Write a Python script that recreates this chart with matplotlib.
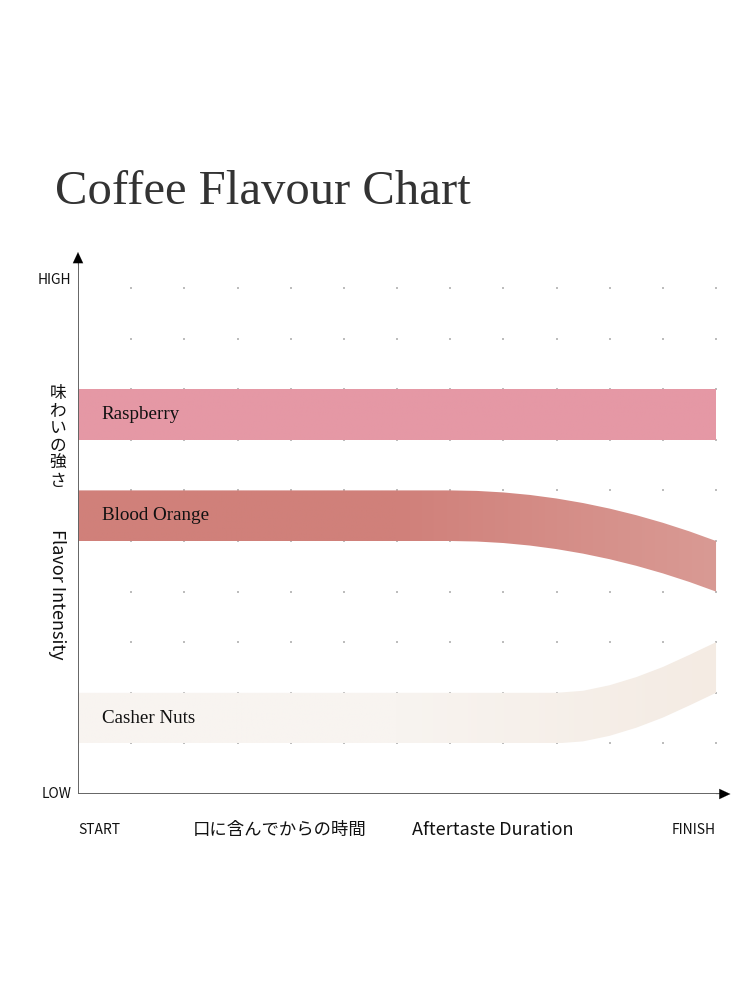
import matplotlib.pyplot as plt
import numpy as np
from matplotlib.colors import LinearSegmentedColormap
from matplotlib.patches import PathPatch
from matplotlib.path import Path

# shared x positions (time grid, START=0 .. FINISH=12)
x_pts = [0, 1, 2, 3, 4, 5, 6, 7, 7.5, 8, 8.5, 9, 9.5, 10, 10.5, 11, 11.5, 12]

# lower edge of each flavour band (band height = 1)
raspberry_low = [7] * 18
blood_orange_low = [5, 5, 5, 5, 5, 5, 5, 5, 4.99, 4.96, 4.91, 4.84, 4.75, 4.64, 4.51, 4.36, 4.19, 4.0]
cashew_low = [1, 1, 1, 1, 1, 1, 1, 1, 1, 1, 1, 1, 1.04, 1.15, 1.31, 1.51, 1.75, 2.0]
band_height = 1

flavours = ["Raspberry", "Blood Orange", "Casher Nuts"]
lows = [raspberry_low, blood_orange_low, cashew_low]
band_colors = [("#E598A5", "#E598A5"), ("#D0807A", "#D99A94"), ("#F8F4F0", "#F4EBE3")]

SANS = ["Noto Sans CJK JP", "DejaVu Sans"]
SERIF = ["Liberation Serif", "DejaVu Serif"]

fig = plt.figure(figsize=(7.5, 10), dpi=100)
ax = fig.add_axes([78 / 750, 206 / 1000, 12.5 * 53.17 / 750, 10.8 * 50.6 / 1000])
ax.set_xlim(0, 12.5)
ax.set_ylim(0, 10.8)
ax.axis("off")

# background dot grid
gx, gy = np.meshgrid(np.arange(0, 13), np.arange(1, 11))
ax.scatter(gx.ravel(), gy.ravel(), s=4, marker="s", color="#bdbdbd", linewidths=0, zorder=1)

# flavour bands with horizontal gradient
for name, low, (c0, c1) in zip(flavours, lows, band_colors):
    low = np.array(low, dtype=float)
    high = low + band_height
    verts = list(zip(x_pts, high)) + list(zip(x_pts[::-1], low[::-1]))
    patch = PathPatch(Path(verts, closed=False), facecolor="none", edgecolor="none", transform=ax.transData)
    ax.add_patch(patch)
    cmap = LinearSegmentedColormap.from_list(name, [c0, c0, c1])
    grad = np.linspace(0, 1, 256).reshape(1, -1)
    img = ax.imshow(grad, extent=[x_pts[0], x_pts[-1], low.min(), high.max()],
                    aspect="auto", cmap=cmap, origin="lower", zorder=2)
    img.set_clip_path(patch)
    ax.text(0.45, low[0] + band_height / 2, name, fontsize=13.7, family=SERIF,
            color="#111111", va="center", ha="left", zorder=3)

ax.set_xlim(0, 12.5)
ax.set_ylim(0, 10.8)

# axes: grey lines with black arrow heads
ax.plot([0, 0], [0, 10.55], color="#646464", lw=1.4, zorder=4, solid_capstyle="butt")
ax.plot([0, 12.1], [0, 0], color="#646464", lw=1.4, zorder=4, solid_capstyle="butt")
head = dict(arrowstyle="-|>,head_length=0.75,head_width=0.35", color="black", lw=0.1,
            mutation_scale=10.5, shrinkA=0, shrinkB=0)
ax.annotate("", xy=(0, 10.71), xytext=(0, 10.45), arrowprops=head, zorder=5)
ax.annotate("", xy=(12.27, 0), xytext=(12.0, 0), arrowprops=head, zorder=5)

# axis labels
ax.text(-0.12, 10.15, "HIGH", family=SANS, fontsize=10, ha="right", va="center", color="#111")
ax.text(-0.12, 0, "LOW", family=SANS, fontsize=10, ha="right", va="center", color="#111")
ax.text(0, -0.72, "START", family=SANS, fontsize=10, ha="left", va="center", color="#111")
ax.text(12, -0.72, "FINISH", family=SANS, fontsize=10, ha="right", va="center", color="#111")
ax.text(2.16, -0.72, "口に含んでからの時間", family=SANS, fontsize=12.5, ha="left", va="center", color="#111")
ax.text(6.28, -0.72, "Aftertaste Duration", family=SANS, fontsize=13, ha="left", va="center", color="#111")
ax.text(-0.38, 7.05, "\n".join("味わいの強さ"), family=SANS, fontsize=12, ha="center", va="center",
        linespacing=1.05, color="#111")
ax.text(-0.4, 3.95, "Flavor Intensity", family=SANS, fontsize=13, rotation=270,
        ha="center", va="center", color="#111")

# title
fig.text(55 / 750, 1 - 204 / 1000, "Coffee Flavour Chart", family=SERIF, fontsize=35,
         color="#333333", ha="left", va="baseline")

fig.savefig("out.png", dpi=100)
